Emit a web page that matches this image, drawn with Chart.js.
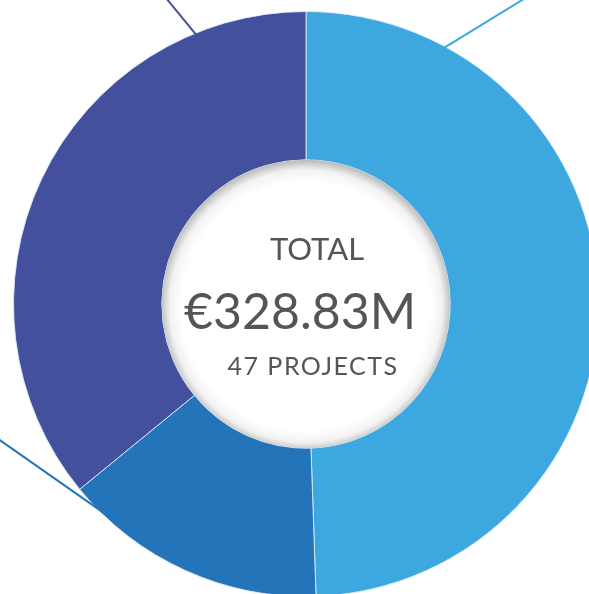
<!DOCTYPE html>
<html>
<head>
<meta charset="utf-8">
<script src="https://cdn.jsdelivr.net/npm/chart.js@4.4.0/dist/chart.umd.min.js"></script>
<style>
  html, body { margin: 0; padding: 0; background: #ffffff; overflow: hidden; width: 589px; height: 594px; }
  #wrap { position: absolute; left: 0; top: 0; width: 620px; height: 620px; }
</style>
</head>
<body>
<div id="wrap"><canvas id="c" width="620" height="620"></canvas></div>
<script>
// ---- data ----
const categories = ['Segment A', 'Segment B', 'Segment C'];
const values = [162.6, 48.1, 118.1];
const colors = ['#3DA8E0', '#2474BA', '#43509E'];
const centerLines = ['TOTAL', '€328.83M', '47 PROJECTS'];

// leader lines: anchor angle on outer edge (deg clockwise from top), direction (deg)
const leaders = [
  { idx: 0, anchor: 28.5, dir: 58.5 },
  { idx: 1, anchor: 226, dir: 305 },
  { idx: 2, anchor: 337.7, dir: 320.7 }
];

const rad = d => (d - 90) * Math.PI / 180;

const decor = {
  id: 'decor',
  afterDatasetsDraw(chart) {
    const ctx = chart.ctx;
    const arc = chart.getDatasetMeta(0).data[0];
    const cx = arc.x, cy = arc.y, R = arc.outerRadius, r = arc.innerRadius;

    // leader lines
    ctx.save();
    ctx.lineWidth = 2;
    leaders.forEach(l => {
      const ax = cx + R * Math.cos(rad(l.anchor));
      const ay = cy + R * Math.sin(rad(l.anchor));
      const dx = Math.cos(rad(l.dir)), dy = Math.sin(rad(l.dir));
      ctx.strokeStyle = colors[l.idx];
      ctx.beginPath();
      ctx.moveTo(ax - dx * 20, ay - dy * 20);
      ctx.lineTo(ax + dx * 400, ay + dy * 400);
      ctx.stroke();
    });
    ctx.restore();

    // hole with inner shadow
    ctx.save();
    const g = ctx.createRadialGradient(cx, cy + 2, 0, cx, cy + 2, r + 1);
    g.addColorStop(0, '#ffffff');
    g.addColorStop((r - 20) / (r + 1), '#ffffff');
    g.addColorStop((r - 8) / (r + 1), '#f2f2f2');
    g.addColorStop(1, '#bdbdbd');
    ctx.fillStyle = g;
    ctx.beginPath();
    ctx.arc(cx, cy, r, 0, Math.PI * 2);
    ctx.fill();
    ctx.restore();

    // center text
    ctx.save();
    ctx.fillStyle = '#555555';
    ctx.textAlign = 'center';
    ctx.textBaseline = 'alphabetic';
    ctx.font = '400 31px Lato';
    ctx.fillText(centerLines[0], cx + 11, cy - 44);
    ctx.font = '400 50px Lato';
    ctx.fillText(centerLines[1], cx - 6, cy + 25);
    ctx.font = '400 25px Lato';
    ctx.letterSpacing = '1.5px';
    ctx.fillText(centerLines[2], cx + 7, cy + 71);
    ctx.restore();
  }
};

new Chart(document.getElementById('c'), {
  type: 'doughnut',
  data: {
    labels: categories,
    datasets: [{
      data: values,
      backgroundColor: colors,
      borderColor: 'rgba(220,235,250,0.9)',
      borderWidth: 1,
      hoverOffset: 0
    }]
  },
  options: {
    responsive: false,
    maintainAspectRatio: false,
    animation: false,
    cutout: '49.3%',
    layout: { padding: { left: 13, top: 11, right: 21, bottom: 23 } },
    plugins: { legend: { display: false }, tooltip: { enabled: false } }
  },
  plugins: [decor]
});
</script>
</body>
</html>
